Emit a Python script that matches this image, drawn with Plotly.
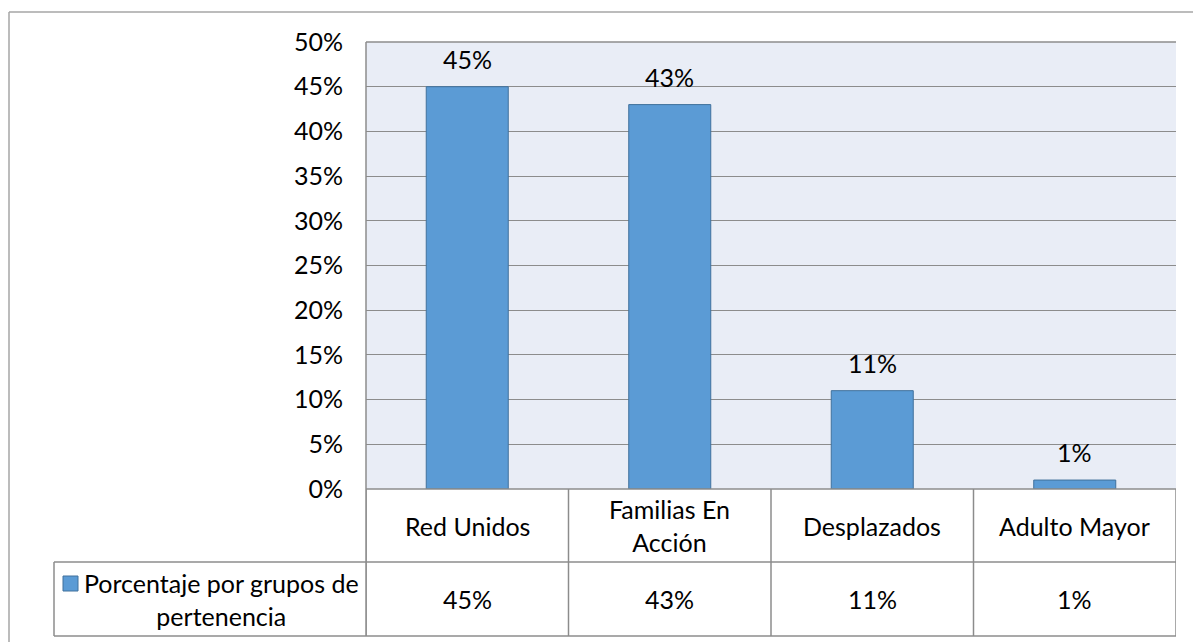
import plotly.graph_objects as go

categories = ["Red Unidos", "Familias En Acción", "Desplazados", "Adulto Mayor"]
category_labels = ["Red Unidos", "Familias En<br>Acción", "Desplazados", "Adulto Mayor"]
values = [0.45, 0.43, 0.11, 0.01]
series_name = "Porcentaje por grupos de<br>pertenencia"
y_ticks = [0, 0.05, 0.10, 0.15, 0.20, 0.25, 0.30, 0.35, 0.40, 0.45, 0.50]

W, H = 1193, 642
FONT = "Lato"
FS = 25
GRID = "#8C8C8C"
BORDER = "#A6A6A6"
BAR = "#5B9BD5"

def px(x):
    return x / W

def py(y):
    return (H - y) / H

plot_left, plot_right = 366, 1176
plot_top, plot_bottom = 42, 489
row1_bottom, row2_bottom = 562, 636
legend_left = 54

fig = go.Figure()
fig.add_trace(go.Bar(
    x=categories, y=values, width=0.405,
    marker=dict(color=BAR, line=dict(color="#41719C", width=1)),
    showlegend=False, hoverinfo="skip",
))

fig.update_layout(
    width=W, height=H,
    margin=dict(l=0, r=0, t=0, b=0, pad=0, autoexpand=False),
    paper_bgcolor="white",
    plot_bgcolor="#E9EDF6",
    font=dict(family=FONT, size=FS, color="#000000"),
    xaxis=dict(domain=[px(plot_left), px(plot_right)], type="category",
               range=[-0.5, 3.5], showticklabels=False, showgrid=False,
               zeroline=False, showline=False, ticks=""),
    yaxis=dict(domain=[py(plot_bottom), py(plot_top)], range=[0, 0.5],
               tickvals=y_ticks, tickformat=".0%", showgrid=True,
               gridcolor=GRID, gridwidth=1, zeroline=False, showline=False,
               ticks="", ticklabelstandoff=22,
               tickfont=dict(family=FONT, size=FS, color="#000000")),
)

shapes = []
# outer chart border
shapes.append(dict(type="line", xref="paper", yref="paper",
                   x0=px(9), x1=1.01, y0=py(12), y1=py(12),
                   line=dict(color=BORDER, width=1.5)))
shapes.append(dict(type="line", xref="paper", yref="paper",
                   x0=px(9), x1=px(9), y0=py(12), y1=-0.01,
                   line=dict(color=BORDER, width=1.5)))
# top gridline (50%)
shapes.append(dict(type="line", xref="paper", yref="paper",
                   x0=px(plot_left), x1=px(plot_right), y0=py(plot_top), y1=py(plot_top),
                   line=dict(color=GRID, width=1.5)))
# plot left border through table
shapes.append(dict(type="line", xref="paper", yref="paper",
                   x0=px(plot_left), x1=px(plot_left), y0=py(plot_top), y1=py(row2_bottom),
                   line=dict(color=GRID, width=1.5)))
# table horizontal lines
shapes.append(dict(type="line", xref="paper", yref="paper",
                   x0=px(plot_left), x1=px(plot_right), y0=py(plot_bottom), y1=py(plot_bottom),
                   line=dict(color=GRID, width=1.5)))
for yy in (row1_bottom, row2_bottom):
    shapes.append(dict(type="line", xref="paper", yref="paper",
                       x0=px(legend_left), x1=px(plot_right), y0=py(yy), y1=py(yy),
                       line=dict(color=GRID, width=1.5)))
# legend cell left border
shapes.append(dict(type="line", xref="paper", yref="paper",
                   x0=px(legend_left), x1=px(legend_left), y0=py(row1_bottom), y1=py(row2_bottom),
                   line=dict(color=GRID, width=1.5)))
# table vertical lines at category boundaries
for i in range(len(categories) + 1):
    shapes.append(dict(type="line", xref="x", yref="paper",
                       x0=i - 0.5, x1=i - 0.5, y0=py(plot_bottom), y1=py(row2_bottom),
                       line=dict(color=GRID, width=1.5)))
# legend key square
shapes.append(dict(type="rect", xref="paper", yref="paper",
                   x0=px(63), x1=px(78), y0=py(576), y1=py(591),
                   fillcolor=BAR, line=dict(color="#41719C", width=1)))
fig.update_layout(shapes=shapes)

annotations = []
for c, lab, v in zip(categories, category_labels, values):
    pct = f"{round(v * 100)}%"
    # data label above bar
    annotations.append(dict(x=c, y=v, xref="x", yref="y", text=pct, showarrow=False,
                            yanchor="middle", yshift=28, font=dict(size=FS, family=FONT)))
    # category row
    annotations.append(dict(x=c, y=py((plot_bottom + row1_bottom) / 2), xref="x", yref="paper",
                            text=lab, showarrow=False, yanchor="middle",
                            font=dict(size=FS, family=FONT)))
    # value row
    annotations.append(dict(x=c, y=py((row1_bottom + row2_bottom) / 2), xref="x", yref="paper",
                            text=pct, showarrow=False, yanchor="middle",
                            font=dict(size=FS, family=FONT)))
annotations.append(dict(x=px(221), y=py(599), xref="paper", yref="paper",
                        text=series_name, showarrow=False, xanchor="center", yanchor="middle",
                        font=dict(size=FS, family=FONT)))
fig.update_layout(annotations=annotations)

fig.write_html("out.html")
